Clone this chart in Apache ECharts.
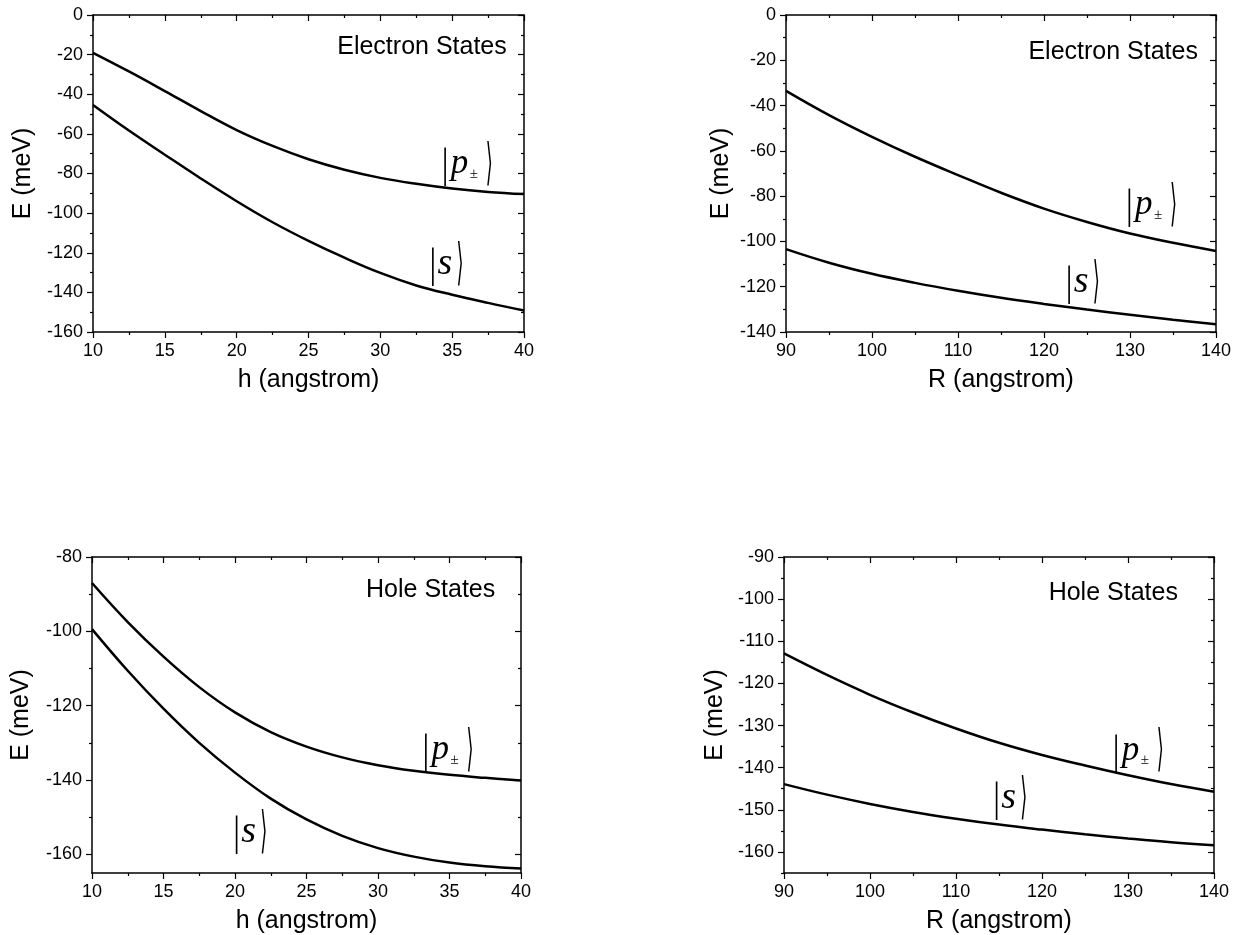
<!DOCTYPE html>
<html><head><meta charset="utf-8">
<script src="https://cdn.jsdelivr.net/npm/echarts@6/dist/echarts.min.js"></script>
<style>html,body{margin:0;padding:0;background:#fff}#c{width:1244px;height:935px}</style>
</head><body><div id="c"></div>
<script>
// ---- data ----
const hValues = [10, 12.5, 15, 17.5, 20, 22.5, 25, 27.5, 30, 32.5, 35, 37.5, 40];
const rValues = [90, 95, 100, 105, 110, 115, 120, 125, 130, 135, 140];

const electronH_p = [-19.1, -28.5, -38.4, -48.5, -58.1, -66.1, -72.8, -78.1, -82.2, -85.2, -87.6, -89.3, -90.4];
const electronH_s = [-45.4, -58.3, -70.5, -82.5, -94.0, -104.6, -114.0, -122.5, -130.2, -136.5, -141.2, -145.3, -149.1];

const electronR_p = [-33.5, -44.2, -53.8, -62.6, -70.7, -78.5, -85.5, -91.4, -96.5, -100.6, -104.2];
const electronR_s = [-103.4, -109.4, -114.3, -118.3, -121.8, -124.9, -127.6, -130.1, -132.4, -134.6, -136.6];

const holeH_p = [-87.0, -97.5, -106.8, -115.0, -121.8, -127.1, -131.0, -133.9, -136.0, -137.5, -138.6, -139.4, -140.1];
const holeH_s = [-99.4, -110.6, -120.8, -130.0, -138.0, -145.0, -150.6, -155.0, -158.3, -160.6, -162.2, -163.2, -163.8];

const holeR_p = [-112.9, -118.0, -122.7, -126.9, -130.7, -134.1, -137.0, -139.5, -141.8, -143.9, -145.7];
const holeR_s = [-143.9, -146.4, -148.6, -150.5, -152.1, -153.5, -154.7, -155.8, -156.8, -157.7, -158.4];

// tick labels
const hTicks = [10, 15, 20, 25, 30, 35, 40];
const hMinor = [12.5, 17.5, 22.5, 27.5, 32.5, 37.5];
const rTicks = [90, 100, 110, 120, 130, 140];
const rMinor = [95, 105, 115, 125, 135];
const eHTicks = [-160, -140, -120, -100, -80, -60, -40, -20, 0];
const eHMinor = [-150, -130, -110, -90, -70, -50, -30, -10];
const eRTicks = [-140, -120, -100, -80, -60, -40, -20, 0];
const eRMinor = [-130, -110, -90, -70, -50, -30, -10];
const hHTicks = [-160, -140, -120, -100, -80];
const hHMinor = [-150, -130, -110, -90];
const hRTicks = [-160, -150, -140, -130, -120, -110, -100, -90];
const hRMinor = [-165, -155, -145, -135, -125, -115, -105, -95];

// annotations
const panelTitles = ['Electron States', 'Electron States', 'Hole States', 'Hole States'];
const xNames = ['h (angstrom)', 'R (angstrom)', 'h (angstrom)', 'R (angstrom)'];
const yName = 'E (meV)';

// ---- layout ----
const FONT = '"Liberation Sans", Arial, Helvetica, sans-serif';
const grids = [
  {left: 93, top: 15, width: 431, height: 317},
  {left: 786, top: 15, width: 430, height: 317},
  {left: 92, top: 557, width: 429, height: 317},
  {left: 784, top: 557, width: 430, height: 318}
];
const yNameGaps = [57, 52, 58, 56];
const ranges = [
  {x: [10, 40], xt: hTicks, xm: hMinor, y: [-160, 0], yt: eHTicks, ym: eHMinor},
  {x: [90, 140], xt: rTicks, xm: rMinor, y: [-140, 0], yt: eRTicks, ym: eRMinor},
  {x: [10, 40], xt: hTicks, xm: hMinor, y: [-165, -80], yt: hHTicks, ym: hHMinor},
  {x: [90, 140], xt: rTicks, xm: rMinor, y: [-165, -90], yt: hRTicks, ym: hRMinor}
];

const lineSt = {color: '#000', width: 1.5};
const tickSt = {color: '#000', width: 1.2};

function axisSet(g, dim, r) {
  const min = r[dim][0], max = r[dim][1];
  const majors = r[dim + 't'], minors = r[dim + 'm'];
  const pos = dim === 'x' ? ['bottom', 'top'] : ['left', 'right'];
  const base = {gridIndex: g, type: 'value', min: min, max: max, splitLine: {show: false}};
  const main = Object.assign({}, base, {
    position: pos[0],
    axisLine: {show: true, onZero: false, lineStyle: lineSt},
    axisTick: {show: true, inside: false, length: 6, customValues: majors, lineStyle: tickSt},
    axisLabel: {show: true, customValues: majors, margin: 10, fontSize: 18, color: '#000', fontFamily: FONT},
    nameLocation: 'middle',
    nameTextStyle: {fontSize: 25, color: '#000', fontFamily: FONT}
  });
  if (dim === 'x') { main.name = xNames[g]; main.nameGap = 36; }
  else { main.name = yName; main.nameGap = yNameGaps[g]; }
  const minor = Object.assign({}, base, {
    position: pos[0],
    axisLine: {show: false, onZero: false},
    axisTick: {show: true, inside: false, length: 3, customValues: minors, lineStyle: tickSt},
    axisLabel: {show: false}
  });
  const mirror = Object.assign({}, base, {
    position: pos[1],
    axisLine: {show: true, onZero: false, lineStyle: lineSt},
    axisTick: {show: true, inside: true, length: 6, customValues: majors, lineStyle: tickSt},
    axisLabel: {show: false}
  });
  const mirrorMinor = Object.assign({}, base, {
    position: pos[1],
    axisLine: {show: false, onZero: false},
    axisTick: {show: true, inside: true, length: 3, customValues: minors, lineStyle: tickSt},
    axisLabel: {show: false}
  });
  return [main, minor, mirror, mirrorMinor];
}

const xAxes = [], yAxes = [];
ranges.forEach((r, g) => {
  xAxes.push(...axisSet(g, 'x', r));
  yAxes.push(...axisSet(g, 'y', r));
});

const curveSets = [
  [hValues, electronH_p, electronH_s],
  [rValues, electronR_p, electronR_s],
  [hValues, holeH_p, holeH_s],
  [rValues, holeR_p, holeR_s]
];
const series = [];
curveSets.forEach((c, g) => {
  [c[1], c[2]].forEach((vals) => {
    series.push({
      type: 'line', xAxisIndex: 4 * g, yAxisIndex: 4 * g,
      data: c[0].map((x, i) => [x, vals[i]]),
      showSymbol: false, symbol: 'none', smooth: 0.4,
      lineStyle: {color: '#000', width: 2.5}, silent: true
    });
  });
});

const chart = echarts.init(document.getElementById('c'), null, {renderer: 'canvas'});
chart.setOption({
  animation: false,
  backgroundColor: '#fff',
  grid: grids.map(g => Object.assign({containLabel: false}, g)),
  xAxis: xAxes,
  yAxis: yAxes,
  series: series
});

// annotation anchors in data coordinates
const titleAnchors = [[38.8, -16.2], [137.9, -16.3], [38.2, -88.8], [135.8, -98.5]];
const ketP = [[34.56, -76], [130, -84.7], [33.4, -132.4], [128.7, -136.4]];
const ketS = [[33.7, -126.7], [123, -118.6], [20.16, -154.6], [114.8, -147.6]];

function txt(x, y, text, font, extra) {
  return Object.assign({
    type: 'text', x: x, y: y,
    style: {text: text, font: font, fill: '#000', textAlign: 'left', textVerticalAlign: 'middle', align: 'left', verticalAlign: 'middle'}
  }, extra || {});
}
function ket(pt, kind) {
  const children = [txt(-4, 0, '|', '42px "Liberation Serif", serif', {scaleX: 0.8})];
  if (kind === 'p') {
    children.push(txt(5, -2, 'p', 'italic 35px "Liberation Serif", serif'));
    children.push(txt(24, 8, '\u00b1', '15px "Liberation Serif", serif'));
    children.push(txt(40, 0, '\u27e9', '40px "DejaVu Sans", sans-serif', {scaleX: 0.45, scaleY: 1.25}));
  } else {
    children.push(txt(4, -2, 's', 'italic 38px "Liberation Serif", serif'));
    children.push(txt(23, 0, '\u27e9', '40px "DejaVu Sans", sans-serif', {scaleX: 0.45, scaleY: 1.25}));
  }
  return {type: 'group', x: pt[0], y: pt[1], children: children};
}

const graphics = [];
for (let g = 0; g < 4; g++) {
  const si = 2 * g;
  const t = chart.convertToPixel({seriesIndex: si}, titleAnchors[g]);
  graphics.push({type: 'text', x: t[0], y: t[1],
    style: {text: panelTitles[g], font: '25px ' + FONT, fill: '#000', textAlign: 'right', textVerticalAlign: 'middle', align: 'right', verticalAlign: 'middle'}});
  graphics.push(ket(chart.convertToPixel({seriesIndex: si}, ketP[g]), 'p'));
  graphics.push(ket(chart.convertToPixel({seriesIndex: si}, ketS[g]), 's'));
}
chart.setOption({graphic: graphics});
</script>
</body></html>
